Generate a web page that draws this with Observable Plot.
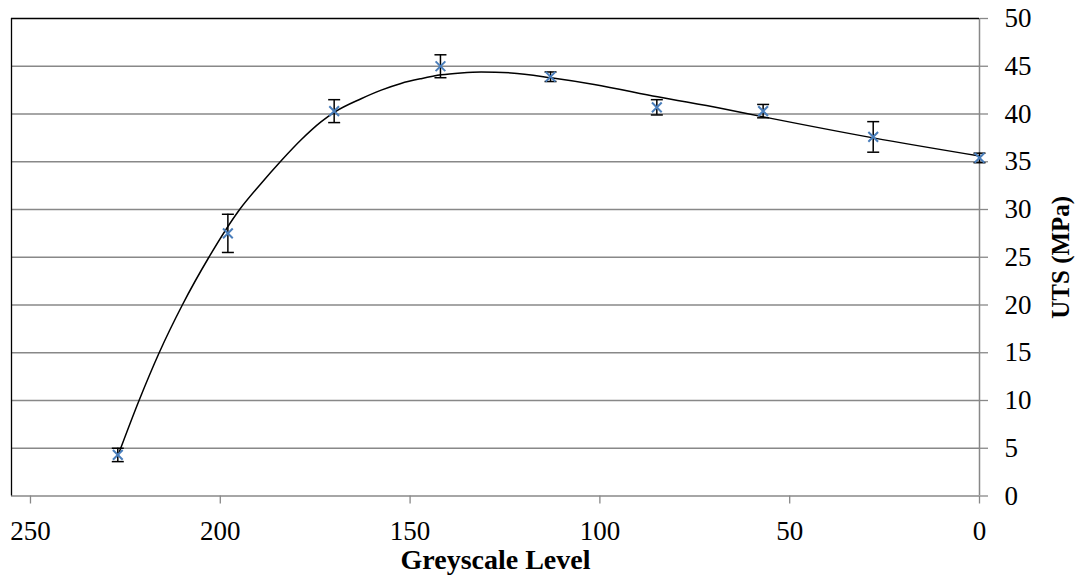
<!DOCTYPE html>
<html>
<head>
<meta charset="utf-8">
<script src="https://cdn.jsdelivr.net/npm/d3@7"></script>
<script src="https://cdn.jsdelivr.net/npm/@observablehq/plot@0.6"></script>
<style>
  html, body { margin: 0; padding: 0; background: #fff; }
  #chart { width: 1075px; height: 583px; }
</style>
</head>
<body>
<div id="chart"></div>
<script>
// Measured data (greyscale level vs UTS, with error bar half-widths)
const greyLevels = [227, 198, 170, 142, 113, 85, 57, 28, 0];
const utsValues  = [4.3, 27.5, 40.3, 45.0, 43.9, 40.7, 40.3, 37.6, 35.4];
const utsErrors  = [0.7, 2.0, 1.2, 1.2, 0.5, 0.8, 0.7, 1.6, 0.5];

// Trendline
const trendGrey = [226.8, 221.4, 216.1, 210.0, 203.0, 194.9, 189.3, 184.2, 178.7, 173.4, 169.9, 162.9, 157.6, 152.4, 147.1, 141.8, 136.6, 131.3, 123.4, 112.9, 101.5, 84.8, 68.2, 56.9, 28, 0];
const trendUts  = [4.4, 10, 15, 20, 25, 30, 32.7, 35, 37.3, 39.2, 40.2, 41.6, 42.5, 43.2, 43.7, 44.1, 44.3, 44.4, 44.3, 43.8, 43.1, 41.8, 40.6, 39.7, 37.5, 35.6];

// Axis ticks
const xTicks = [250, 200, 150, 100, 50, 0];
const yTicks = [0, 5, 10, 15, 20, 25, 30, 35, 40, 45, 50];
const xLabel = "Greyscale Level";
const yLabel = "UTS (MPa)";

const points = greyLevels.map((g, i) => ({g, uts: utsValues[i], err: utsErrors[i]}));
const trend = trendGrey.map((g, i) => ({g, uts: trendUts[i]}));

const grid = "#888888";
const serif = "Liberation Serif";

const capSymbol = {
  draw(context, size) {
    const r = Math.sqrt(size / Math.PI);
    context.moveTo(-r, 0);
    context.lineTo(r, 0);
  }
};

const chart = Plot.plot({
  width: 1075,
  height: 583,
  marginLeft: 11,
  marginRight: 96,
  marginTop: 18,
  marginBottom: 87.5,
  style: {fontFamily: serif, fontSize: "27px", color: "#000", background: "#fff"},
  x: {domain: [255, 0], axis: null},
  y: {domain: [0, 50], axis: null},
  marks: [
    Plot.ruleY(yTicks.filter(d => d > 0 && d < 50), {stroke: grid, strokeWidth: 1.3}),
    Plot.axisX({ticks: xTicks, tickSize: 8, tickPadding: 17, stroke: grid, strokeWidth: 1.3, fontSize: 27, tickFormat: d => d, label: null}),
    Plot.axisY({anchor: "right", ticks: yTicks, tickSize: 8, tickPadding: 17, stroke: grid, strokeWidth: 1.3, fontSize: 27, tickFormat: d => d, label: null}),
    Plot.ruleY([0], {stroke: grid, strokeWidth: 1.5}),
    Plot.ruleX([0], {stroke: grid, strokeWidth: 1.5}),
    Plot.ruleY([50], {stroke: "#000", strokeWidth: 1.3}),
    Plot.ruleX([255], {stroke: "#000", strokeWidth: 1.3}),
    Plot.ruleX(points, {x: "g", y1: d => d.uts - d.err, y2: d => d.uts + d.err, stroke: "#000", strokeWidth: 1.5}),
    Plot.dot(points, {x: "g", y: d => d.uts - d.err, symbol: capSymbol, r: 6, stroke: "#000", strokeWidth: 1.5}),
    Plot.dot(points, {x: "g", y: d => d.uts + d.err, symbol: capSymbol, r: 6, stroke: "#000", strokeWidth: 1.5}),
    Plot.line(trend, {x: "g", y: "uts", curve: "monotone-x", stroke: "#000", strokeWidth: 1.5}),
    Plot.dot(points, {x: "g", y: "uts", symbol: "times", r: 4.5, stroke: "#4a7ebb", strokeWidth: 2}),
    Plot.text([xLabel], {frameAnchor: "bottom", dy: 64.5, textAnchor: "middle", lineAnchor: "middle", fontWeight: "bold", fontSize: 28, text: d => d}),
    Plot.text([yLabel], {frameAnchor: "right", dx: 81, rotate: -90, textAnchor: "middle", lineAnchor: "middle", fontWeight: "bold", fontSize: 25, text: d => d})
  ]
});
document.getElementById("chart").appendChild(chart);
</script>
</body>
</html>
